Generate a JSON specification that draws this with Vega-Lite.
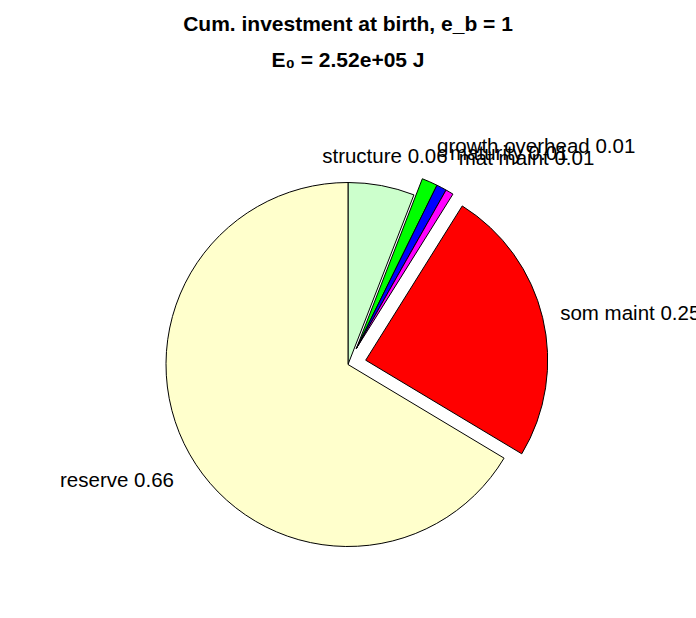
{
  "$schema": "https://vega.github.io/schema/vega-lite/v6.json",
  "width": 696,
  "height": 500,
  "autosize": {"type": "none"},
  "padding": {"top": 114.5, "left": 0, "right": 0, "bottom": 0},
  "background": "white",
  "view": {"stroke": null},
  "title": {
    "text": "Cum. investment at birth, e_b = 1",
    "subtitle": "E₀ = 2.52e+05 J",
    "anchor": "middle",
    "frame": "group",
    "font": "Liberation Sans",
    "fontSize": 21,
    "fontWeight": "bold",
    "color": "black",
    "subtitleFont": "Liberation Sans",
    "subtitleFontSize": 21,
    "subtitleFontWeight": "bold",
    "subtitleColor": "black",
    "subtitlePadding": 15,
    "offset": 44
  },
  "data": {
    "values": [
      {"k": 1, "part": "structure", "value": 0.059, "label": "structure 0.06"},
      {"k": 2, "part": "growth overhead", "value": 0.014, "label": "growth overhead 0.01"},
      {"k": 3, "part": "maturity", "value": 0.009, "label": "maturity 0.01"},
      {"k": 4, "part": "mat maint", "value": 0.007, "label": "mat maint 0.01"},
      {"k": 5, "part": "som maint", "value": 0.247, "label": "som maint 0.25"},
      {"k": 6, "part": "reserve", "value": 0.664, "label": "reserve 0.66"}
    ]
  },
  "layer": [
    {
      "transform": [
        {"stack": "value", "groupby": [], "sort": [{"field": "k", "order": "ascending"}], "as": ["v0", "v1"]},
        {"filter": {"field": "part", "oneOf": ["structure", "reserve"]}}
      ],
      "mark": {"type": "arc", "outerRadius": 182, "stroke": "black", "strokeWidth": 1},
      "encoding": {
        "theta": {"field": "v0", "type": "quantitative", "scale": {"domain": [0, 1], "range": [0, 6.283185307]}},
        "theta2": {"field": "v1"},
        "color": {"field": "part", "type": "nominal", "legend": null,
          "scale": {"domain": ["structure", "growth overhead", "maturity", "mat maint", "som maint", "reserve"],
                    "range": ["#CCFFCC", "#00FF00", "#0000FF", "#FF00FF", "#FF0000", "#FFFFCC"]}}
      }
    },
    {
      "transform": [
        {"stack": "value", "groupby": [], "sort": [{"field": "k", "order": "ascending"}], "as": ["v0", "v1"]},
        {"filter": {"field": "part", "oneOf": ["growth overhead", "maturity", "mat maint"]}}
      ],
      "mark": {"type": "arc", "outerRadius": 182, "stroke": "black", "strokeWidth": 1, "xOffset": 8.4, "yOffset": -16.1},
      "encoding": {
        "theta": {"field": "v0", "type": "quantitative"},
        "theta2": {"field": "v1"},
        "color": {"field": "part", "type": "nominal", "legend": null}
      }
    },
    {
      "transform": [
        {"stack": "value", "groupby": [], "sort": [{"field": "k", "order": "ascending"}], "as": ["v0", "v1"]},
        {"filter": {"field": "part", "oneOf": ["som maint"]}}
      ],
      "mark": {"type": "arc", "outerRadius": 182, "stroke": "black", "strokeWidth": 1, "xOffset": 17.7, "yOffset": -4.3},
      "encoding": {
        "theta": {"field": "v0", "type": "quantitative"},
        "theta2": {"field": "v1"},
        "color": {"field": "part", "type": "nominal", "legend": null}
      }
    },
    {
      "mark": {"type": "text", "radius": 200, "align": "center", "baseline": "alphabetic", "dy": -5, "font": "Liberation Sans", "fontSize": 20.5, "color": "black"},
      "encoding": {
        "theta": {"field": "value", "type": "quantitative", "stack": true},
        "order": {"field": "k", "type": "quantitative"},
        "detail": {"field": "part", "type": "nominal"},
        "text": {"condition": {"test": "datum.part === 'structure'", "field": "label"}, "value": ""}
      }
    },
    {
      "mark": {"type": "text", "radius": 200, "align": "left", "baseline": "alphabetic", "dy": -12, "xOffset": 8.4, "yOffset": -16.1, "font": "Liberation Sans", "fontSize": 20.5, "color": "black"},
      "encoding": {
        "theta": {"field": "value", "type": "quantitative", "stack": true},
        "order": {"field": "k", "type": "quantitative"},
        "detail": {"field": "part", "type": "nominal"},
        "text": {"condition": {"test": "indexof(['growth overhead','maturity','mat maint'], datum.part) >= 0", "field": "label"}, "value": ""}
      }
    },
    {
      "mark": {"type": "text", "radius": 200, "align": "left", "baseline": "alphabetic", "dy": 6.5, "xOffset": 17.7, "yOffset": -4.3, "font": "Liberation Sans", "fontSize": 20.5, "color": "black"},
      "encoding": {
        "theta": {"field": "value", "type": "quantitative", "stack": true},
        "order": {"field": "k", "type": "quantitative"},
        "detail": {"field": "part", "type": "nominal"},
        "text": {"condition": {"test": "datum.part === 'som maint'", "field": "label"}, "value": ""}
      }
    },
    {
      "mark": {"type": "text", "radius": 200, "align": "right", "baseline": "alphabetic", "dy": 24, "font": "Liberation Sans", "fontSize": 20.5, "color": "black"},
      "encoding": {
        "theta": {"field": "value", "type": "quantitative", "stack": true},
        "order": {"field": "k", "type": "quantitative"},
        "detail": {"field": "part", "type": "nominal"},
        "text": {"condition": {"test": "datum.part === 'reserve'", "field": "label"}, "value": ""}
      }
    }
  ]
}
